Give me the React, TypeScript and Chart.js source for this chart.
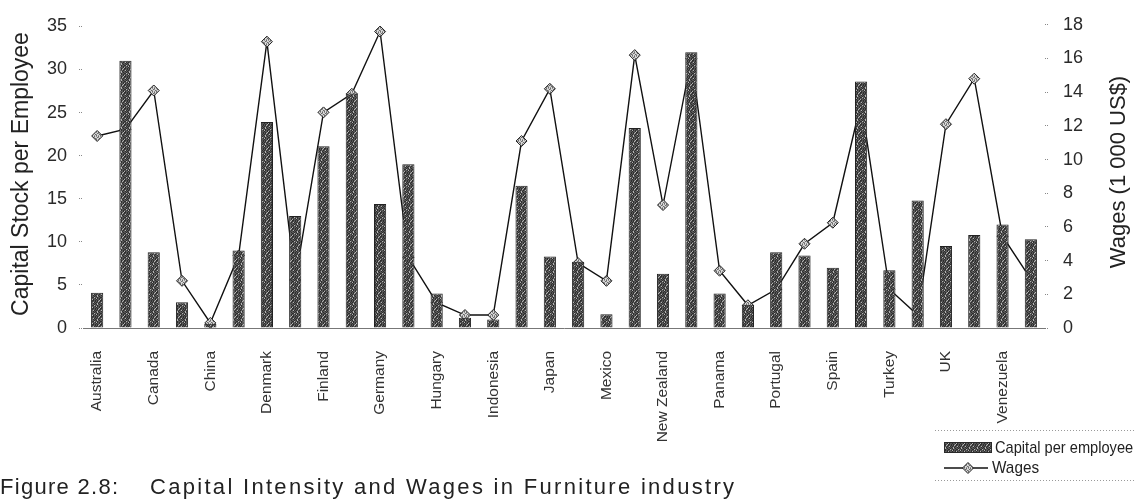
import React, { useEffect, useRef } from 'react';
import { Chart, registerables } from 'chart.js';

Chart.register(...registerables);

// ---- data ----
const categories = ['Australia', '', 'Canada', '', 'China', '', 'Denmark', '', 'Finland', '', 'Germany', '', 'Hungary', '', 'Indonesia', '', 'Japan', '', 'Mexico', '', 'New Zealand', '', 'Panama', '', 'Portugal', '', 'Spain', '', 'Turkey', '', 'UK', '', 'Venezuela', ''];
const capitalPerEmployee = [4.1, 31.0, 8.8, 3.0, 0.5, 9.0, 23.9, 13.0, 21.1, 27.2, 14.4, 19.0, 4.0, 1.2, 1.0, 16.5, 8.3, 7.7, 1.6, 23.2, 6.3, 32.0, 4.0, 2.7, 8.8, 8.4, 7.0, 28.6, 6.7, 14.8, 9.5, 10.8, 12.0, 10.3];
const wages = [11.4, 11.8, 14.1, 2.8, 0.3, 4.3, 17.0, 2.85, 12.8, 13.9, 17.6, 4.2, 1.5, 0.77, 0.77, 11.1, 14.2, 3.85, 2.8, 16.2, 7.3, 16.0, 3.4, 1.35, 2.3, 5.0, 6.25, 13.4, 2.3, 0.77, 12.1, 14.8, 5.45, 2.9];
const capitalTicks = [0, 5, 10, 15, 20, 25, 30, 35];
const wageTicks = [0, 2, 4, 6, 8, 10, 12, 14, 16, 18];

const leftTitle = 'Capital Stock per Employee';
const rightTitle = 'Wages (1 000 US$)';
const seriesNames = ['Capital per employee', 'Wages'];
const captionLabel = 'Figure 2.8:';
const captionText = 'Capital Intensity and Wages in Furniture industry';

const FONT = "'Liberation Sans', Arial, sans-serif";

const palette: Record<string, string> = { d: '#2e2e2e', m: '#575757', l: '#b4b4b4' };
const barRows = [
  'dlmdmmdm',
  'mdmmddlm',
  'ldmdmmmd',
  'dmmdldmm',
  'mdmlddmd',
  'mdlmdmmd',
  'dmmdmldm',
  'mldmmdmd',
];
const markerPalette: Record<string, string> = { d: '#6a6a6a', m: '#959595', l: '#d8d8d8' };
const markerRows = ['mldl', 'ldml', 'mlld', 'dlml'];

function makePattern(ctx: CanvasRenderingContext2D, rows: string[], pal: Record<string, string>) {
  const c = document.createElement('canvas');
  c.width = rows[0].length;
  c.height = rows.length;
  const p = c.getContext('2d')!;
  rows.forEach((row, y) => row.split('').forEach((ch, x) => {
    p.fillStyle = pal[ch];
    p.fillRect(x, y, 1, 1);
  }));
  return ctx.createPattern(c, 'repeat')!;
}

export default function App() {
  const ref = useRef<HTMLCanvasElement>(null);

  useEffect(() => {
    document.body.style.margin = '0';
    const canvas = ref.current!;
    const ctx = canvas.getContext('2d')!;
    const barPattern = makePattern(ctx, barRows, palette);
    const markerPattern = makePattern(ctx, markerRows, markerPalette);

    const overlay = {
      id: 'overlay',
      afterDraw(chart: any) {
        const c = chart.ctx as CanvasRenderingContext2D;
        c.save();
        c.fillStyle = '#222';
        c.textAlign = 'center';
        c.textBaseline = 'middle';
        // left axis title
        c.font = `23px ${FONT}`;
        c.save();
        c.translate(22, 174);
        c.rotate(-Math.PI / 2);
        c.fillText(leftTitle, 0, 0);
        c.restore();
        // right axis title (reads bottom-to-top)
        c.font = `22px ${FONT}`;
        c.save();
        c.translate(1119, 172);
        c.rotate(-Math.PI / 2);
        c.fillText(rightTitle, 0, 0);
        c.restore();
        c.restore();

        // legend
        c.save();
        c.strokeStyle = '#9a9a9a';
        c.lineWidth = 1;
        c.setLineDash([1, 2]);
        c.beginPath();
        c.moveTo(935, 430.5); c.lineTo(1134, 430.5);
        c.moveTo(935, 480.5); c.lineTo(1134, 480.5);
        c.stroke();
        c.setLineDash([]);
        c.fillStyle = barPattern;
        c.fillRect(944, 442, 48, 11);
        c.strokeStyle = '#2a2a2a';
        c.strokeRect(944.5, 442.5, 47, 10);
        c.strokeStyle = '#111';
        c.lineWidth = 1.4;
        c.beginPath();
        c.moveTo(944, 468); c.lineTo(988, 468);
        c.stroke();
        c.beginPath();
        c.moveTo(968, 462.5); c.lineTo(973.5, 468); c.lineTo(968, 473.5); c.lineTo(962.5, 468); c.closePath();
        c.fillStyle = markerPattern;
        c.fill();
        c.lineWidth = 1;
        c.strokeStyle = '#222';
        c.stroke();
        c.fillStyle = '#222';
        c.font = `17px ${FONT}`;
        c.textAlign = 'left';
        c.textBaseline = 'middle';
        c.save();
        c.translate(995, 448);
        c.scale(0.86, 1);
        c.fillText(seriesNames[0], 0, 0);
        c.restore();
        c.save();
        c.translate(992, 468);
        c.scale(0.9, 1);
        c.fillText(seriesNames[1], 0, 0);
        c.restore();
        c.restore();
      },
    };

    const chart = new Chart(ctx, {
      type: 'bar',
      data: {
        labels: categories,
        datasets: [
          {
            type: 'bar',
            label: seriesNames[0],
            data: capitalPerEmployee,
            yAxisID: 'y',
            backgroundColor: barPattern,
            borderColor: '#222',
            borderWidth: 1,
            barPercentage: 0.43,
            categoryPercentage: 1,
            order: 1,
          },
          {
            type: 'line',
            label: seriesNames[1],
            data: wages,
            yAxisID: 'y1',
            borderColor: '#111',
            borderWidth: 1.4,
            tension: 0,
            pointStyle: 'rectRot',
            pointRadius: 5.5,
            pointBackgroundColor: markerPattern,
            pointBorderColor: '#222',
            pointBorderWidth: 1,
            order: 2,
          } as any,
        ],
      },
      options: {
        animation: false,
        responsive: false,
        layout: { padding: { top: 17, left: 0, right: 0, bottom: 0 } },
        plugins: { legend: { display: false }, tooltip: { enabled: false } },
        scales: {
          x: {
            offset: true,
            grid: { display: false },
            border: { display: true, color: '#777', dash: [1, 2], width: 1 },
            ticks: {
              autoSkip: false,
              minRotation: 90,
              maxRotation: 90,
              padding: 15,
              color: '#333',
              font: { family: FONT, size: 15.5 },
            },
            afterFit: (s: any) => { s.height = 499 - 328; },
          },
          y: {
            position: 'left',
            min: 0,
            max: 35.18,
            afterBuildTicks: (s: any) => { s.ticks = capitalTicks.map((v) => ({ value: v })); },
            grid: { display: true, drawOnChartArea: false, drawTicks: true, tickLength: 4, tickColor: '#888', tickBorderDash: [1, 1], tickWidth: 1 },
            border: { display: false },
            ticks: { padding: 12, color: '#2a2a2a', font: { family: FONT, size: 18 } },
            afterFit: (s: any) => { s.width = 83; },
          },
          y1: {
            position: 'right',
            min: 0,
            max: 18,
            afterBuildTicks: (s: any) => { s.ticks = wageTicks.map((v) => ({ value: v })); },
            grid: { display: true, drawOnChartArea: false, drawTicks: true, tickLength: 4, tickColor: '#888', tickBorderDash: [1, 1], tickWidth: 1 },
            border: { display: false },
            ticks: { padding: 14, color: '#2a2a2a', font: { family: FONT, size: 18 } },
            afterFit: (s: any) => { s.width = 1134 - 1045; },
          },
        },
      },
      plugins: [overlay],
    });
    return () => chart.destroy();
  }, []);

  return (
    <div style={{ position: 'relative', width: 1134, height: 499, background: '#fff', overflow: 'hidden' }}>
      <canvas ref={ref} width={1134} height={499} style={{ position: 'absolute', left: 0, top: 0 }} />
      <div style={{ position: 'absolute', left: 0, top: 475, fontFamily: FONT, fontSize: 22, color: '#222', whiteSpace: 'nowrap', lineHeight: '24px' }}>
        <span style={{ position: 'absolute', left: 0, letterSpacing: '1.3px' }}>{captionLabel}</span>
        <span style={{ position: 'absolute', left: 150, letterSpacing: '2.3px' }}>{captionText}</span>
      </div>
    </div>
  );
}
